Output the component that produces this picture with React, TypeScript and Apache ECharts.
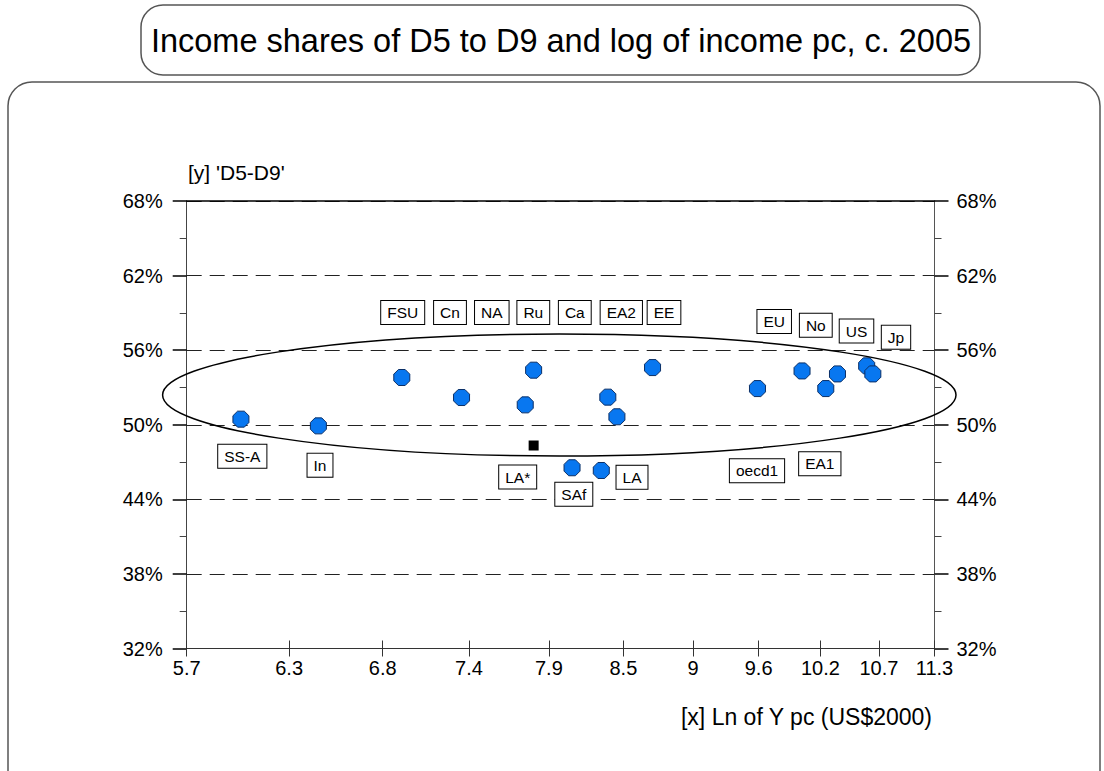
import React, { useEffect, useRef } from "react";
import * as echarts from "echarts";

// ---- data ----
const titleText = "Income shares of D5 to D9 and log of income pc, c. 2005";
const yAxisTitle = "[y] 'D5-D9'";
const xAxisTitle = "[x] Ln of Y pc (US$2000)";

// x tick values (Ln of Y pc) and their printed labels (log-scaled axis)
const xTickValues = [5.7, 6.26, 6.82, 7.38, 7.94, 8.5, 9.06, 9.62, 10.18, 10.74, 11.3];
const xTickLabels = ["5.7", "6.3", "6.8", "7.4", "7.9", "8.5", "9", "9.6", "10.2", "10.7", "11.3"];
const yMajorTicks = [32, 38, 44, 50, 56, 62, 68];
const yMinorTicks = [35, 41, 47, 53, 59, 65];

// blue points: Ln of Y pc and D5-D9 share (%)
const pointX = [5.99, 6.43, 6.94, 7.33, 7.77, 7.83, 8.11, 8.33, 8.38, 8.45, 8.73, 9.61, 10.01, 10.23, 10.34, 10.62, 10.68];
const pointY = [50.45, 49.91, 53.8, 52.19, 51.6, 54.39, 46.54, 46.32, 52.22, 50.64, 54.6, 52.91, 54.33, 52.91, 54.09, 54.74, 54.09];

// black square (LA*)
const squareX = [7.83];
const squareY = [48.33];

// region labels shown in boxes
const regionLabels = ["FSU", "Cn", "NA", "Ru", "Ca", "EA2", "EE", "EU", "No", "US", "Jp", "SS-A", "In", "LA*", "SAf", "LA", "oecd1", "EA1"];

const FONT = "'Liberation Sans', Arial, Helvetica, sans-serif";

// label box centres (pixel layout)
const labelPos: [number, number][] = [
  [402.7, 312.5], [450, 312.5], [491.8, 312.5], [533.3, 312.5], [574.8, 312.5], [621.3, 312.5], [664, 312.5],
  [774.2, 321.5], [815.8, 325.3], [856.5, 331], [896, 337.2],
  [242.3, 456.2], [320, 465.2], [517.7, 477], [573.8, 494.2], [632, 477.3], [757, 470.7], [819.8, 463.8],
];

const OCTAGON = "path://M29,0 L71,0 L100,29 L100,71 L71,100 L29,100 L0,71 L0,29 Z";

export default function App() {
  const ref = useRef<HTMLDivElement>(null);

  useEffect(() => {
    if (!ref.current) return;
    const chart = echarts.init(ref.current, undefined, { renderer: "svg" });

    const lnMin = Math.log(xTickValues[0]);
    const lnMax = Math.log(xTickValues[xTickValues.length - 1]);
    const xTickLn = xTickValues.map((v) => Math.log(v));
    const xFmt = (v: number) => {
      for (let i = 0; i < xTickLn.length; i++) {
        if (Math.abs(xTickLn[i] - v) < 1e-6) return xTickLabels[i];
      }
      return "";
    };

    const gridRect = { left: 186.7, top: 201, width: 747.8, height: 447.5 };
    const axisColor = "#333";

    const labelGraphics = regionLabels.map((t, i) => ({
      type: "text",
      x: labelPos[i][0],
      y: labelPos[i][1],
      z: 100,
      style: {
        text: t,
        fontSize: 15.5,
        fontFamily: FONT,
        fill: "#000",
        align: "center",
        verticalAlign: "middle",
        textAlign: "center",
        textVerticalAlign: "middle",
        backgroundColor: "#fff",
        borderColor: "#000",
        borderWidth: 1,
        padding: [4, 6, 3, 6],
      },
    }));

    const option: any = {
      animation: false,
      backgroundColor: "#fff",
      grid: [
        { ...gridRect, containLabel: false },
        { ...gridRect, containLabel: false },
      ],
      xAxis: [
        {
          gridIndex: 0,
          type: "value",
          position: "bottom",
          min: lnMin,
          max: lnMax,
          axisLine: { show: true, onZero: false, lineStyle: { color: axisColor, width: 1.2 } },
          axisTick: { show: true, length: 8, customValues: xTickLn, lineStyle: { color: axisColor } },
          axisLabel: {
            show: true,
            customValues: xTickLn,
            formatter: xFmt,
            fontSize: 20,
            fontFamily: FONT,
            color: "#000",
            margin: 9,
          },
          splitLine: { show: false },
        },
        {
          gridIndex: 0,
          type: "value",
          position: "top",
          min: lnMin,
          max: lnMax,
          axisLine: { show: true, onZero: false, lineStyle: { color: "#000", width: 1.5 } },
          axisTick: { show: false },
          axisLabel: { show: false },
          splitLine: { show: false },
        },
        {
          gridIndex: 1,
          type: "value",
          position: "bottom",
          min: lnMin,
          max: lnMax,
          axisLine: { show: false, onZero: false },
          axisTick: { show: true, inside: true, length: 8, customValues: xTickLn, lineStyle: { color: axisColor } },
          axisLabel: { show: false },
          splitLine: { show: false },
        },
      ],
      yAxis: [
        {
          gridIndex: 0,
          type: "value",
          position: "left",
          min: 32,
          max: 68,
          axisLine: { show: true, onZero: false, lineStyle: { color: "#444", width: 1 } },
          axisTick: { show: true, length: 14, customValues: yMajorTicks, lineStyle: { color: "#000", width: 1.5 } },
          axisLabel: {
            show: true,
            customValues: yMajorTicks,
            formatter: (v: number) => `${v}%`,
            fontSize: 20,
            fontFamily: FONT,
            color: "#000",
            margin: 24,
          },
          splitLine: { show: true, lineStyle: { color: "#222", width: 1, type: [15, 8] } },
        },
        {
          gridIndex: 0,
          type: "value",
          position: "right",
          min: 32,
          max: 68,
          axisLine: { show: true, onZero: false, lineStyle: { color: "#555", width: 1 } },
          axisTick: { show: true, length: 14, customValues: yMajorTicks, lineStyle: { color: "#000", width: 1.5 } },
          axisLabel: {
            show: true,
            customValues: yMajorTicks,
            formatter: (v: number) => `${v}%`,
            fontSize: 20,
            fontFamily: FONT,
            color: "#000",
            margin: 22,
          },
          splitLine: { show: false },
        },
        {
          gridIndex: 1,
          type: "value",
          position: "left",
          min: 32,
          max: 68,
          axisLine: { show: false, onZero: false },
          axisTick: { show: true, length: 7, customValues: yMinorTicks, lineStyle: { color: "#444" } },
          axisLabel: { show: false },
          splitLine: { show: false },
        },
        {
          gridIndex: 1,
          type: "value",
          position: "right",
          min: 32,
          max: 68,
          axisLine: { show: false, onZero: false },
          axisTick: { show: true, length: 7, customValues: yMinorTicks, lineStyle: { color: "#444" } },
          axisLabel: { show: false },
          splitLine: { show: false },
        },
      ],
      series: [
        {
          type: "scatter",
          xAxisIndex: 0,
          yAxisIndex: 0,
          symbol: OCTAGON,
          symbolSize: 16,
          itemStyle: { color: "#0877f0", borderColor: "#0b2f66", borderWidth: 1, opacity: 1 },
          data: pointX.map((x, i) => [Math.log(x), pointY[i]]),
          z: 5,
        },
        {
          type: "scatter",
          xAxisIndex: 0,
          yAxisIndex: 0,
          symbol: "rect",
          symbolSize: 10,
          itemStyle: { color: "#000", opacity: 1 },
          data: squareX.map((x, i) => [Math.log(x), squareY[i]]),
          z: 5,
        },
      ],
      graphic: [
        {
          type: "rect",
          shape: { x: 141, y: 5, width: 839, height: 70, r: 22 },
          style: { fill: "#fff", stroke: "#555", lineWidth: 1.5 },
          z: 1,
        },
        {
          type: "text",
          x: 561,
          y: 41,
          z: 2,
          style: {
            text: titleText,
            fontSize: 32.5,
            fontFamily: FONT,
            fill: "#000",
            align: "center",
            verticalAlign: "middle",
            textAlign: "center",
            textVerticalAlign: "middle",
          },
        },
        {
          type: "rect",
          shape: { x: 8, y: 82, width: 1092, height: 720, r: 24 },
          style: { fill: "none", stroke: "#555", lineWidth: 1.5 },
          z: 1,
        },
        {
          type: "text",
          x: 188,
          y: 172,
          z: 2,
          style: {
            text: yAxisTitle,
            fontSize: 21,
            fontFamily: FONT,
            fill: "#000",
            align: "left",
            verticalAlign: "middle",
            textAlign: "left",
            textVerticalAlign: "middle",
          },
        },
        {
          type: "text",
          x: 932,
          y: 717,
          z: 2,
          style: {
            text: xAxisTitle,
            fontSize: 23,
            fontFamily: FONT,
            fill: "#000",
            align: "right",
            verticalAlign: "middle",
            textAlign: "right",
            textVerticalAlign: "middle",
          },
        },
        {
          type: "ellipse",
          shape: { cx: 559.3, cy: 395, rx: 396.7, ry: 61 },
          style: { fill: "none", stroke: "#000", lineWidth: 1.5 },
          z: 50,
        },
        ...labelGraphics,
      ],
    };

    chart.setOption(option);
    return () => chart.dispose();
  }, []);

  return (
    <div
      ref={ref}
      style={{ position: "absolute", left: 0, top: 0, width: 1104, height: 771, background: "#fff" }}
    />
  );
}
